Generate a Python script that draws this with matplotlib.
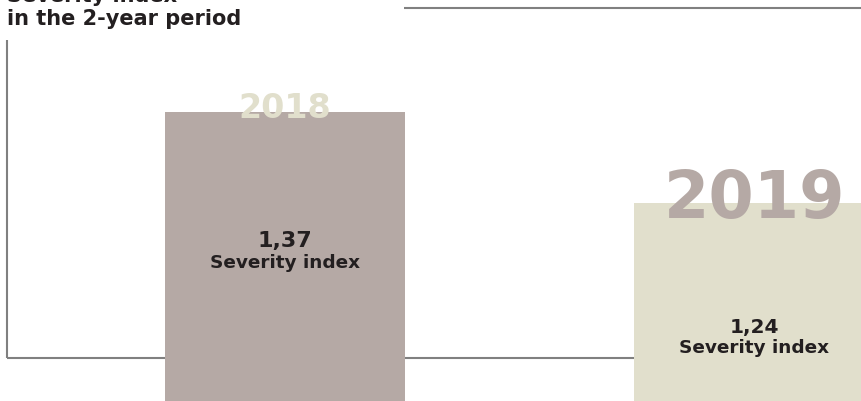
import matplotlib.pyplot as plt

# severity index per year
years = ['2018', '2019']
severity = [1.37, 1.24]
value_labels = ['1,37', '1,24']
bar_colors = ['#b5a9a5', '#e1dfcc']
year_colors = ['#e1dfcc', '#b5a9a5']
year_sizes = [24, 47]
year_offsets = [0.009, 0.022]
value_sizes = [16, 14.5]
value_y = [1.177, 1.054]
caption_y = [1.147, 1.026]

plt.rcParams['font.family'] = ['DejaVu Sans']

fig = plt.figure(figsize=(8.62, 4.01), dpi=100)
ax = fig.add_axes([0, 0, 1, 1])
ax.set_xlim(-0.608, 1.23)
ax.set_ylim(0.957, 1.53)
ax.axis('off')

pos = list(range(len(years)))
bars = ax.bar(pos, severity, width=0.512, color=bar_colors, zorder=2)

# frame lines (in axes fraction)
line_kw = dict(color='#808080', lw=1.5, transform=ax.transAxes, zorder=1,
               solid_capstyle='butt')
ax.plot([0.0081, 1], [0.107, 0.107], **line_kw)
ax.plot([0.0081, 0.0081], [0.107, 0.90], **line_kw)
ax.plot([0.469, 1], [0.980, 0.980], **line_kw)

for i, b in enumerate(bars):
    x = b.get_x() + b.get_width() / 2
    top = b.get_height()
    ax.text(x, top - year_offsets[i], years[i], ha='center', va='baseline',
            fontsize=year_sizes[i], fontweight='bold', color=year_colors[i],
            zorder=3)
    ax.text(x, value_y[i], value_labels[i], ha='center', va='baseline',
            fontsize=value_sizes[i], fontweight='bold', color='#231f20', zorder=3)
    ax.text(x, caption_y[i], 'Severity index', ha='center', va='baseline',
            fontsize=13.3, fontweight='bold', color='#231f20', zorder=3)

# title, first line cut by the top edge
fig.text(0.008, 1 - 2 / 401, 'Severity index', ha='left', va='baseline',
         fontsize=15, fontweight='bold', color='#231f20')
fig.text(0.008, 1 - 25 / 401, 'in the 2-year period', ha='left', va='baseline',
         fontsize=15, fontweight='bold', color='#231f20')

fig.savefig('out.png', dpi=100)
